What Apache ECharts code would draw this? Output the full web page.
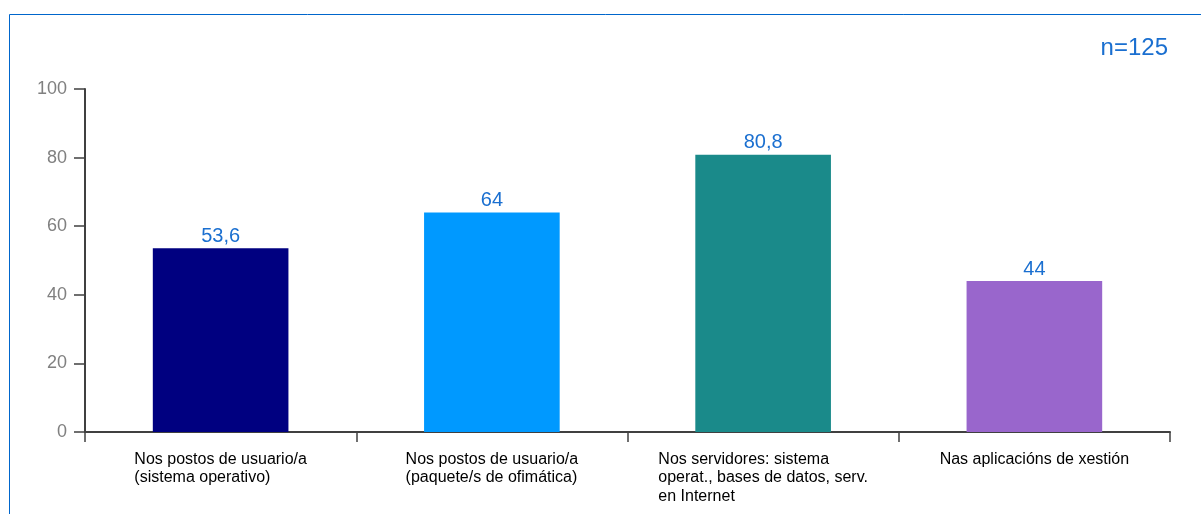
<!DOCTYPE html>
<html>
<head>
<meta charset="utf-8">
<script src="https://cdn.jsdelivr.net/npm/echarts@6/dist/echarts.min.js"></script>
<style>
  html, body { margin: 0; padding: 0; background: #ffffff; }
  #chart { width: 1201px; height: 514px; }
</style>
</head>
<body>
<div id="chart"></div>
<script>
const categories = [
  'Nos postos de usuario/a\n(sistema operativo)',
  'Nos postos de usuario/a\n(paquete/s de ofimática)',
  'Nos servidores: sistema\noperat., bases de datos, serv.\nen Internet',
  'Nas aplicacións de xestión'
];
const values = [53.6, 64, 80.8, 44];
const barColors = ['#000080', '#0099ff', '#1a8a8a', '#9966cc'];
const yTicks = { min: 0, max: 100, interval: 20 };
const sampleNote = 'n=125';

const FONT = "'Liberation Sans', Arial, sans-serif";
const chart = echarts.init(document.getElementById('chart'), null, { renderer: 'canvas' });

chart.setOption({
  backgroundColor: '#ffffff',
  animation: false,
  title: {
    text: sampleNote,
    right: 33,
    top: 36,
    padding: 0,
    textStyle: { color: '#1a6fd0', fontSize: 24, fontWeight: 'normal', fontFamily: FONT }
  },
  graphic: [{
    type: 'rect',
    silent: true,
    shape: { x: 9.5, y: 14.5, width: 1400, height: 700 },
    style: { fill: 'none', stroke: '#0066cc', lineWidth: 1 }
  }],
  grid: { left: 85, right: 31, top: 89, bottom: 82, containLabel: false },
  xAxis: {
    type: 'category',
    data: categories,
    axisLine: { show: true, lineStyle: { color: '#404040', width: 2 } },
    axisTick: { show: true, length: 10, lineStyle: { color: '#404040', width: 1.5 } },
    axisLabel: {
      interval: 0,
      margin: 18,
      formatter: function (v) { return '{a|' + v + '}'; },
      rich: { a: { fontSize: 16, lineHeight: 18.5, color: '#000000', fontFamily: FONT, align: 'left' } }
    },
    splitLine: { show: false }
  },
  yAxis: {
    type: 'value',
    min: yTicks.min,
    max: yTicks.max,
    interval: yTicks.interval,
    axisLine: { show: true, lineStyle: { color: '#404040', width: 2 } },
    axisTick: { show: true, length: 11, lineStyle: { color: '#404040', width: 1.5 } },
    axisLabel: { margin: 18, color: '#808080', fontSize: 18, fontFamily: FONT },
    splitLine: { show: false }
  },
  series: [{
    type: 'bar',
    barWidth: '50%',
    data: values.map((v, i) => ({ value: v, itemStyle: { color: barColors[i] } })),
    label: {
      show: true,
      position: 'top',
      distance: 2,
      color: '#1a6fd0',
      fontSize: 20,
      fontFamily: FONT,
      formatter: p => String(p.value).replace('.', ',')
    }
  }]
});
</script>
</body>
</html>
